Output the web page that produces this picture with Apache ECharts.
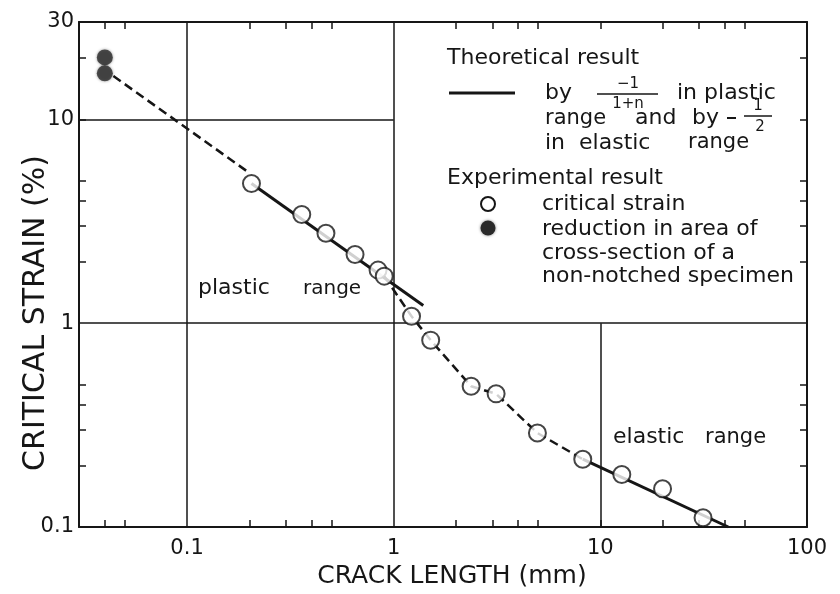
<!DOCTYPE html>
<html>
<head>
<meta charset="utf-8">
<script src="https://cdn.jsdelivr.net/npm/echarts@6/dist/echarts.min.js"></script>
<style>
  html, body { margin: 0; padding: 0; background: #fff; }
  #chart { width: 840px; height: 594px; }
</style>
</head>
<body>
<div id="chart"></div>
<script>
// experimental result: critical strain (open circles)
const crackLen = [0.205, 0.359, 0.47, 0.65, 0.84, 0.90, 1.22, 1.51, 2.37, 3.13, 4.96, 8.22, 12.7, 20.0, 31.4];
const critStrain = [4.84, 3.41, 2.76, 2.17, 1.82, 1.70, 1.08, 0.825, 0.49, 0.45, 0.289, 0.215, 0.181, 0.154, 0.111];
// reduction in area of a non-notched specimen (filled circles)
const ranLen = [0.04, 0.04];
const ranStrain = [20.1, 16.8];
// theoretical lines
const plasticX = [0.205, 1.39];
const plasticY = [4.84, 1.22];
const plasticExtX = [0.044, 0.196];   // dashed extension towards the filled points
const plasticExtY = [16.3, 5.54];
const elasticX = [8.22, 41.6];
const elasticY = [0.215, 0.1];
// dashed experimental trend goes through points 6..12
const trendFrom = 5, trendTo = 11;

// axes
const xRange = [0.03, 100];
const yRange = [0.1, 30];
const xLabels = [0.1, 1, 10, 100];
const yLabels = [0.1, 1, 10, 30];
const xMinor = [0.04, 0.05, 0.2, 0.3, 0.4, 0.5, 2, 3, 4, 5, 10, 20, 30, 40, 50];
const yMinor = [0.2, 0.3, 0.4, 0.5, 2, 3, 4, 5, 10, 20];
// grid segments: [value, from, to]
const vLines = [[0.1, 0.1, 30], [1, 0.1, 30], [10, 0.1, 1]];
const hLines = [[1, 0.03, 100], [10, 0.03, 1]];

const ink = '#161616';
const font = 'DejaVu Sans';
const pts = (xs, ys) => xs.map((x, i) => [x, ys[i]]);

const chart = echarts.init(document.getElementById('chart'));

const baseAxis = (extra) => Object.assign({
  type: 'log',
  logBase: 10,
  axisLine: { onZero: false, lineStyle: { color: ink, width: 2 } },
  axisTick: { inside: true, length: 7, lineStyle: { color: ink, width: 1.5 } },
  splitLine: { show: false },
  minorTick: { show: false }
}, extra);

const txt = (x, y, text, size, extra) => ({
  type: 'text', x: x, y: y, z: 10,
  style: Object.assign({
    text: text, fill: ink, font: size + 'px "' + font + '"',
    align: 'left', verticalAlign: 'middle'
  }, extra || {})
});
const seg = (x1, y1, x2, y2, w) => ({
  type: 'line', z: 10,
  shape: { x1: x1, y1: y1, x2: x2, y2: y2 },
  style: { stroke: ink, lineWidth: w || 1.5 }
});

const gridMarks = vLines.map(v => [{ coord: [v[0], v[1]] }, { coord: [v[0], v[2]] }])
  .concat(hLines.map(h => [{ coord: [h[1], h[0]] }, { coord: [h[2], h[0]] }]));

const yTitle = txt(36, 313, 'CRITICAL STRAIN (%)', 30, { align: 'center' });
yTitle.rotation = Math.PI / 2;

const option = {
  animation: false,
  backgroundColor: '#fff',
  grid: { left: 79, right: 33, top: 22, bottom: 67, containLabel: false, outerBoundsMode: 'none' },
  xAxis: [
    baseAxis({
      min: xRange[0], max: xRange[1],
      name: 'CRACK LENGTH (mm)', nameLocation: 'middle', nameGap: 36,
      nameTextStyle: { fontSize: 25, color: ink, fontFamily: font, padding: [0, 0, 0, 18] },
      axisTick: { inside: true, length: 7, customValues: xMinor, lineStyle: { color: ink, width: 1.5 } },
      axisLabel: { customValues: xLabels, fontSize: 21, margin: 11, color: ink, fontFamily: font }
    }),
    baseAxis({
      min: xRange[0], max: xRange[1], position: 'top',
      axisTick: { inside: true, length: 7, customValues: xMinor, lineStyle: { color: ink, width: 1.5 } },
      axisLabel: { show: false }
    })
  ],
  yAxis: [
    baseAxis({
      min: yRange[0], max: yRange[1],
      axisTick: { inside: true, length: 7, customValues: yMinor, lineStyle: { color: ink, width: 1.5 } },
      axisLabel: { customValues: yLabels, fontSize: 21, margin: 5, color: ink, fontFamily: font }
    }),
    baseAxis({
      min: yRange[0], max: yRange[1], position: 'right',
      axisTick: { inside: true, length: 7, customValues: yMinor, lineStyle: { color: ink, width: 1.5 } },
      axisLabel: { show: false }
    })
  ],
  series: [
    {
      name: 'grid', type: 'line', data: [], z: 1, silent: true,
      markLine: {
        silent: true, symbol: 'none', label: { show: false },
        lineStyle: { color: ink, width: 1.5, type: 'solid' },
        data: gridMarks
      }
    },
    {
      name: 'plastic ext', type: 'line', data: pts(plasticExtX, plasticExtY),
      symbol: 'none', z: 3, lineStyle: { color: ink, width: 2.5, type: [9, 5] }
    },
    {
      name: 'plastic', type: 'line', data: pts(plasticX, plasticY),
      symbol: 'none', z: 3, lineStyle: { color: ink, width: 3 }
    },
    {
      name: 'trend', type: 'line',
      data: pts(crackLen, critStrain).slice(trendFrom, trendTo + 1),
      symbol: 'none', z: 3, lineStyle: { color: ink, width: 2.5, type: [9, 5] }
    },
    {
      name: 'elastic', type: 'line', data: pts(elasticX, elasticY),
      symbol: 'none', z: 3, lineStyle: { color: ink, width: 3 }
    },
    {
      name: 'critical strain', type: 'scatter', data: pts(crackLen, critStrain),
      symbol: 'circle', symbolSize: 17, z: 5,
      itemStyle: { color: '#fff', borderColor: ink, borderWidth: 2 }
    },
    {
      name: 'reduction in area', type: 'scatter', data: pts(ranLen, ranStrain),
      symbol: 'circle', symbolSize: 16, z: 5,
      itemStyle: { color: '#2a2a2a', shadowBlur: 3, shadowColor: 'rgba(0,0,0,0.5)' }
    }
  ],
  graphic: [
    yTitle,
    // legend
    txt(447, 58, 'Theoretical result', 22),
    seg(449, 93, 515, 93, 3),
    txt(545, 93, 'by', 22),
    txt(628, 84, '−1', 15, { align: 'center' }),
    seg(597, 94, 658, 94, 1.5),
    txt(628, 104, '1+n', 15, { align: 'center' }),
    txt(677, 93, 'in plastic', 22),
    txt(545, 119, 'range', 21),
    txt(635, 118, 'and', 22),
    txt(692, 118, 'by', 22),
    seg(727, 118, 736, 118, 2),
    txt(758, 106, '1', 15, { align: 'center' }),
    seg(744, 116, 772, 116, 1.5),
    txt(760, 127, '2', 15, { align: 'center' }),
    txt(545, 143, 'in  elastic', 22),
    txt(688, 143, 'range', 21),
    txt(447, 178, 'Experimental result', 22),
    { type: 'circle', z: 10, shape: { cx: 488, cy: 204, r: 7 }, style: { fill: '#fff', stroke: ink, lineWidth: 2 } },
    txt(542, 204, 'critical strain', 22),
    { type: 'circle', z: 10, shape: { cx: 488, cy: 228, r: 7.5 }, style: { fill: '#2a2a2a', shadowBlur: 3, shadowColor: 'rgba(0,0,0,0.5)' } },
    txt(542, 229, 'reduction in area of', 22),
    txt(542, 253, 'cross-section of a', 22),
    txt(542, 276, 'non-notched specimen', 22),
    // range annotations
    txt(198, 288, 'plastic', 22),
    txt(303, 289, 'range', 20),
    txt(613, 437, 'elastic', 22),
    txt(705, 438, 'range', 21)
  ]
};

chart.setOption(option);
</script>
</body>
</html>
